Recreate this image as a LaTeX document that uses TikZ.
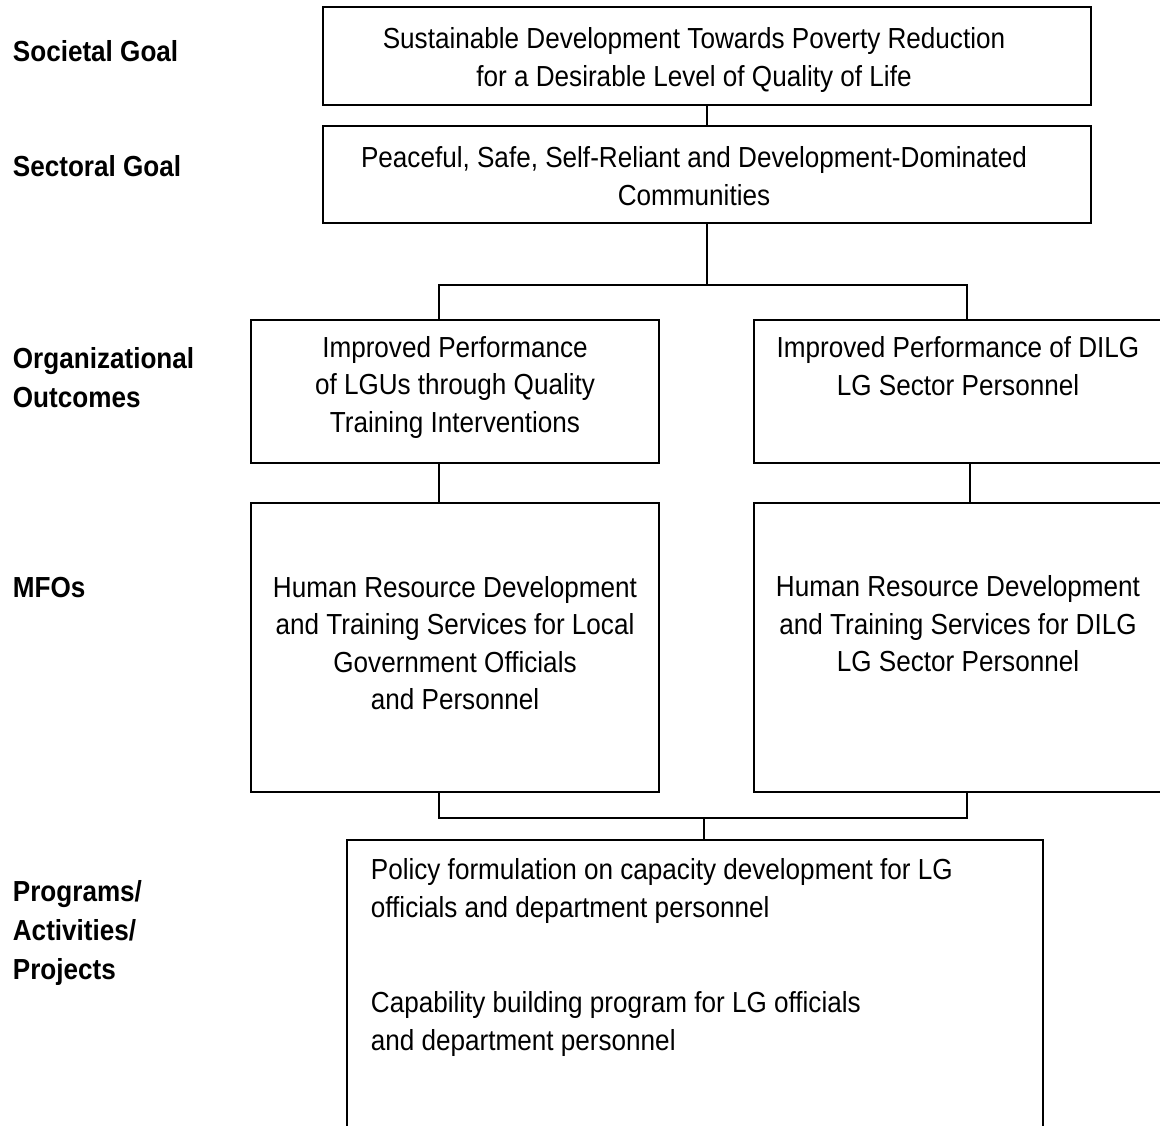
\documentclass[tikz,border=0pt]{standalone}
\usepackage{fontspec}
\setmainfont{Liberation Sans}[FakeStretch=0.9]
\usetikzlibrary{calc}

\begin{document}
\begin{tikzpicture}[x=0.5pt,y=-0.5pt,line width=0.9pt,
    box/.style={draw,inner sep=0pt,outer sep=0pt,minimum width=204pt},
    txt/.style={align=center,inner sep=0pt,font=\fontsize{14.5}{18.75}\selectfont},
    lvl/.style={anchor=west,align=left,inner sep=0pt,font=\fontsize{14.5}{19.5}\selectfont\bfseries}]
    \useasboundingbox (0,0) rectangle (1160,1125);
    % level names
    \node[lvl] (lsoc) at (12,51) {Societal Goal};
    \node[lvl] (lsec) at (12,166) {Sectoral Goal};
    \node[lvl] (lorg) at (12,378) {Organizational\\Outcomes};
    \node[lvl] (lmfo) at (12,588) {MFOs};
    \node[lvl] (lpap) at (12,933) {Programs/\\Activities/\\Projects};
    % boxes
    \node[box,minimum width=384pt,minimum height=49pt] (soc) at (707,56) {};
    \node[box,minimum width=384pt,minimum height=48.5pt] (sec) at (707,174.5) {};
    \node[box,minimum height=71.5pt] (oL) at (455,391.5) {};
    \node[box,minimum height=71.5pt] (oR) at (958,391.5) {};
    \node[box,minimum height=144.5pt] (mL) at (455,647.5) {};
    \node[box,minimum height=144.5pt] (mR) at (958,647.5) {};
    \node[box,minimum width=348pt,minimum height=150pt,anchor=north] (prog) at (695,840) {};
    % texts
    \node[txt] (soct) at (694,60) {Sustainable Development Towards Poverty Reduction\\for a Desirable Level of Quality of Life};
    \node[txt] (sect) at (694,176) {Peaceful, Safe, Self-Reliant and Development-Dominated\\Communities};
    \node[txt] (oLt) at (455,387) {Improved Performance\\of LGUs through Quality\\Training Interventions};
    \node[txt] (oRt) at (958,366) {Improved Performance of DILG\\LG Sector Personnel};
    \node[txt] (mLt) at (455,643) {Human Resource Development\\and Training Services for Local\\Government Officials\\and Personnel};
    \node[txt] (mRt) at (958,624) {Human Resource Development\\and Training Services for DILG\\LG Sector Personnel};
    \node[txt,align=left,anchor=west] (p1) at (370,891) {Policy formulation on capacity development for LG\\officials and department personnel};
    \node[txt,align=left,anchor=west] (p2) at (370,1024) {Capability building program for LG officials\\and department personnel};
    % connectors
    \coordinate (jt) at (707,285);
    \coordinate (jl) at (439,285);
    \coordinate (jr) at (967,285);
    \coordinate (cr) at (970,480);
    \coordinate (bl) at (439,818);
    \coordinate (br) at (967,818);
    \coordinate (bm) at (704,818);
    \draw (soc.south) -- (sec.north);
    \draw (sec.south) -- (jt);
    \draw (jl |- oL.north) -- (jl) -- (jr) -- (jr |- oR.north);
    \draw (oL.south -| jl) -- (mL.north -| jl);
    \draw (oR.south -| cr) -- (mR.north -| cr);
    \draw (mL.south -| bl) -- (bl) -- (br) -- (mR.south -| br);
    \draw (bm) -- (bm |- prog.north);
\end{tikzpicture}
\end{document}
